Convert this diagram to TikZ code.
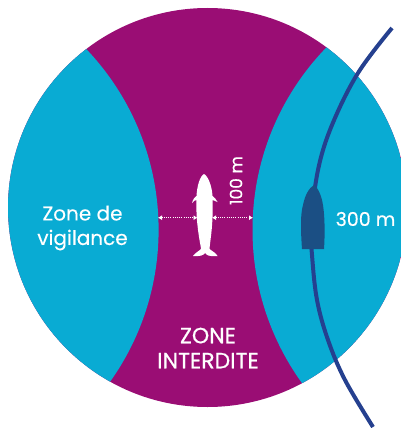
\documentclass[tikz,border=0pt]{standalone}
\usepackage{fontspec}
\setmainfont[FakeBold=0.3]{Poppins}
\newfontfamily\capsfont[FakeBold=0.7]{Poppins}
\usetikzlibrary{arrows.meta}
\definecolor{zonecyan}{HTML}{09ABD3}
\definecolor{zonemag}{HTML}{9A0D74}
\definecolor{shipline}{HTML}{25408F}
\definecolor{shiphull}{HTML}{1B4F84}
\tikzset{
  lab/.style={text=white,align=center,inner sep=0pt},
  measure/.style={white,line width=1pt,dash pattern=on 1pt off 1.2pt,{Latex[length=4pt,width=5pt]}-{Latex[length=4pt,width=5pt]}}
}
\begin{document}
\begin{tikzpicture}[x=1pt,y=-1pt]
\useasboundingbox (0,0) rectangle (401,428);
\begin{scope}
\clip (0,0) rectangle (401,428);
\fill[zonemag] (207.5,207.5) circle[radius=199.5];
\begin{scope}
\clip (207.5,207.5) circle[radius=199.5];
\fill[zonecyan] (-103.4,229.8) circle[radius=262];
\fill[zonecyan] (514.5,229.8) circle[radius=262];
\end{scope}
\draw[shipline,line width=4pt] plot[smooth,tension=0.6] coordinates {(392,28) (358,73) (332,125) (318,170) (311,225) (312,255) (317,300) (328,340) (345,380) (373,427)};
\end{scope}
% hull
\fill[shiphull] (302,249) .. controls (301,235) and (300,215) .. (303,205) .. controls (305,195) and (309,188) .. (314,185) .. controls (317,187) and (320,192) .. (322,200) .. controls (325,212) and (325,235) .. (324,249) -- cycle;
% whale
\fill[white] (204,174) .. controls (208,176) and (212,186) .. (212.5,196)
 .. controls (214,197) and (216,199) .. (217.5,202)
 .. controls (215,201) and (213,200) .. (212.5,200)
 .. controls (213,212) and (212.5,225) .. (210.5,240)
 .. controls (210,245) and (209.5,247) .. (209.5,249)
 .. controls (212,251) and (216,253) .. (217.5,256)
 .. controls (213,256) and (209,256.5) .. (206.5,254.5)
 -- (205,253) -- (203.5,254.5)
 .. controls (201,256.5) and (196,256) .. (193,256)
 .. controls (195,253) and (199,251) .. (201,249)
 .. controls (201,246) and (200,244) .. (199.5,240)
 .. controls (197,225) and (196,212) .. (196.5,200)
 .. controls (195,200) and (194,201) .. (192,203)
 .. controls (193,199) and (195,197) .. (196.5,196)
 .. controls (197,186) and (200,176) .. (204,174) -- cycle;
\coordinate (la) at (158,217.7);
\coordinate (lb) at (197.5,217.7);
\coordinate (ra) at (212,217.7);
\coordinate (rb) at (253,217.7);
\draw[measure] (la) -- (lb);
\draw[measure] (ra) -- (rb);
\node[lab,font=\fontsize{17pt}{20pt}\selectfont,rotate=90] (hundred) at (236,180.5) {100 m};
\node[lab,font=\fontsize{20pt}{24.5pt}\selectfont] (vigil) at (82.5,228) {Zone de\\vigilance};
\node[lab,font=\capsfont\fontsize{22pt}{25pt}\selectfont] (interdite) at (208,348) {ZONE\\INTERDITE};
\node[lab,font=\fontsize{19pt}{23pt}\selectfont] (three) at (365.5,219) {300 m};
\end{tikzpicture}
\end{document}
